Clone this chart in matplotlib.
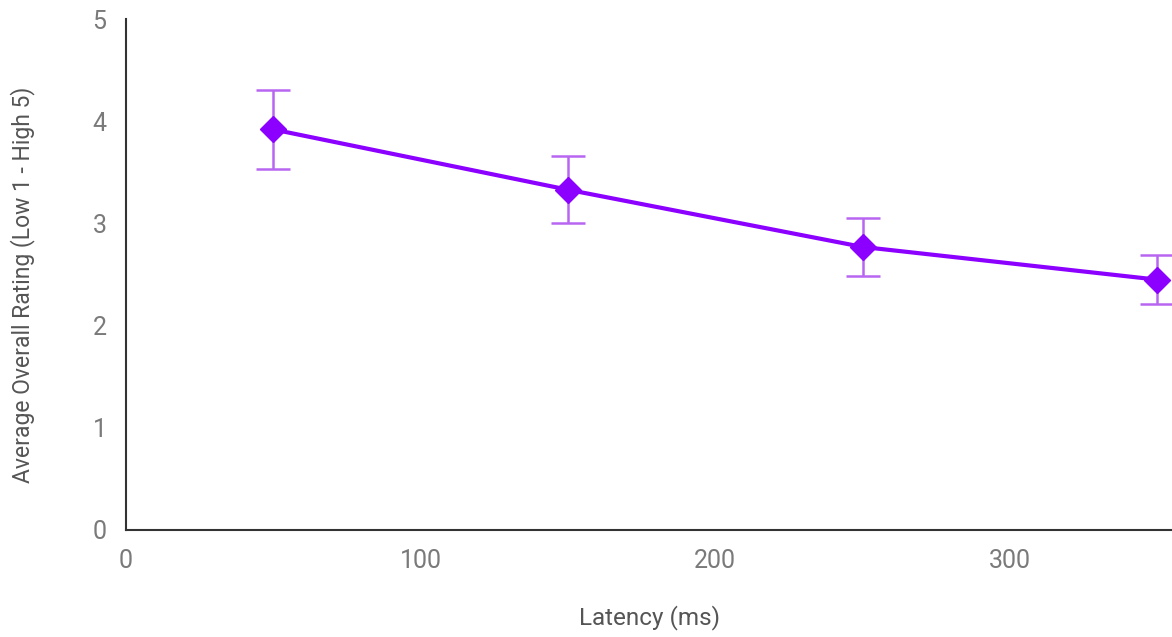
import matplotlib.pyplot as plt

# data
latency = [50, 150, 250, 350]
rating = [3.92, 3.33, 2.77, 2.45]
rating_err = [0.39, 0.33, 0.28, 0.24]
x_ticks = [0, 100, 200, 300]
y_ticks = [0, 1, 2, 3, 4, 5]

plt.rcParams['font.family'] = ['Roboto', 'DejaVu Sans']

fig = plt.figure(figsize=(11.72, 6.37), dpi=100)
ax = fig.add_axes([0.1075, 0.168, 0.8925, 0.802])

ax.errorbar(latency, rating, yerr=rating_err, fmt='none', ecolor='#B866F2',
            elinewidth=1.8, capsize=12, capthick=1.8, zorder=2)
ax.plot(latency, rating, color='#8B00FF', linewidth=3, marker='D', markersize=13,
        zorder=3, clip_on=False)

ax.set_xlim(0, 355)
ax.set_ylim(0, 5)
ax.set_xticks(x_ticks)
ax.set_yticks(y_ticks)

for side in ['top', 'right']:
    ax.spines[side].set_visible(False)
for side in ['left', 'bottom']:
    ax.spines[side].set_color('#333333')
    ax.spines[side].set_linewidth(1.5)

ax.tick_params(axis='both', length=0, labelsize=18, labelcolor='#7a7a7a')
ax.tick_params(axis='y', pad=14)
ax.tick_params(axis='x', pad=14)

# axis titles placed by hand, as in the reference
fig.text(0.554, 0.030, 'Latency (ms)', fontsize=17.5, color='#555555',
         ha='center', va='center')
fig.text(0.019, 0.553, 'Average Overall Rating (Low 1 - High 5)', fontsize=16.5,
         color='#555555', ha='center', va='center', rotation=90)

fig.savefig('out.png', dpi=100, facecolor='white')
